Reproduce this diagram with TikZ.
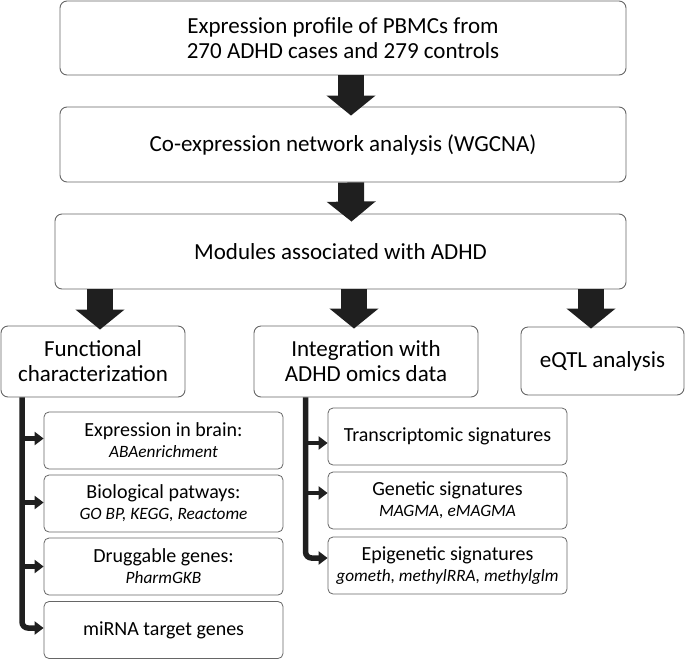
\documentclass[tikz,border=0pt]{standalone}
\usepackage{fontspec}
\setmainfont{Carlito}
\usetikzlibrary{arrows.meta,calc}
\newcommand{\sublbl}[1]{{\fontsize{17.3}{20}\selectfont\itshape #1}}
\tikzset{
  bigbox/.style={draw=black!60, line width=0.9pt, rounded corners=7pt, align=center, inner sep=0pt, font=\fontsize{23}{25}\selectfont},
  subbox/.style={draw=black!60, line width=0.8pt, rounded corners=5pt, align=center, inner sep=0pt, minimum width=239pt, minimum height=57pt, font=\fontsize{20}{21}\selectfont},
  blockarrow/.style={line width=26pt, draw=black!88, -{Triangle[width=48pt,length=20pt]}},
  trunk/.style={line width=5.5pt, draw=black!88, rounded corners=6pt, -{Triangle[width=13pt,length=9pt]}},
  branch/.style={line width=4.5pt, draw=black!88, -{Triangle[width=13pt,length=9pt]}}
}
\begin{document}
\begin{tikzpicture}[x=1pt,y=-1pt]
\useasboundingbox (0,0) rectangle (685,659);
% main boxes
\node[bigbox, minimum width=566pt, minimum height=74pt] (top) at (343,38) {Expression profile of PBMCs from\\270 ADHD cases and 279 controls};
\node[bigbox, minimum width=566pt, minimum height=75pt] (wgcna) at (343,144.5) {Co-expression network analysis (WGCNA)};
\node[bigbox, minimum width=571pt, minimum height=75pt] (mods) at (340.5,251.5) {Modules associated with ADHD};
\node[bigbox, minimum width=184pt, minimum height=71pt] (func) at (93,361.5) {Functional\\characterization};
\node[bigbox, minimum width=224pt, minimum height=71pt] (integ) at (366,361.5) {Integration with\\ADHD omics data};
\node[bigbox, minimum width=163pt, minimum height=68pt] (eqtl) at (602.5,361) {eQTL analysis};
% functional sub-boxes
\node[subbox] (f1) at (163.5,440.5) {Expression in brain:\\\sublbl{ABAenrichment}};
\node[subbox] (f2) at (163.5,503.5) {Biological patways:\\\sublbl{GO BP, KEGG, Reactome}};
\node[subbox] (f3) at (163.5,566.5) {Druggable genes:\\\sublbl{PharmGKB}};
\node[subbox] (f4) at (163.5,630) {miRNA target genes};
% integration sub-boxes
\node[subbox] (i1) at (447.5,436.5) {Transcriptomic signatures};
\node[subbox] (i2) at (447.5,500.5) {Genetic signatures\\\sublbl{MAGMA, eMAGMA}};
\node[subbox] (i3) at (447.5,565.5) {Epigenetic signatures\\\sublbl{gometh, methylRRA, methylglm}};
% block arrows
\draw[blockarrow] ($(top.south)+(8,0)$) -- ($(wgcna.north)+(8,9)$);
\draw[blockarrow] ($(wgcna.south)+(8,0)$) -- ($(mods.north)+(11,8)$);
\draw[blockarrow] (mods.south -| func.north) ++(7,0) -- ($(func.north)+(7,4)$);
\draw[blockarrow] (mods.south -| integ.north) ++(-12,0) -- ($(integ.north)+(-12,3)$);
\draw[blockarrow] (mods.south -| eqtl.north) ++(-11.5,0) -- ($(eqtl.north)+(-11.5,2)$);
% functional bracket
\coordinate (ft) at ($(func.south west)+(21.5,0)$);
\draw[trunk] (ft) |- ($(f4.west)+(0,-2)$);
\draw[branch] (ft |- f1.west) ++(0,-2) -- ($(f1.west)+(0,-2)$);
\draw[branch] (ft |- f2.west) ++(0,-1) -- ($(f2.west)+(0,-1)$);
\draw[branch] (ft |- f3.west) -- (f3.west);
% integration bracket
\coordinate (it) at ($(integ.south west)+(52,0)$);
\draw[trunk] (it) |- ($(i3.west)+(0,-7.5)$);
\draw[branch] (it |- i1.west) ++(0,6.5) -- ($(i1.west)+(0,6.5)$);
\draw[branch] (it |- i2.west) ++(0,-7.5) -- ($(i2.west)+(0,-7.5)$);
\end{tikzpicture}
\end{document}
